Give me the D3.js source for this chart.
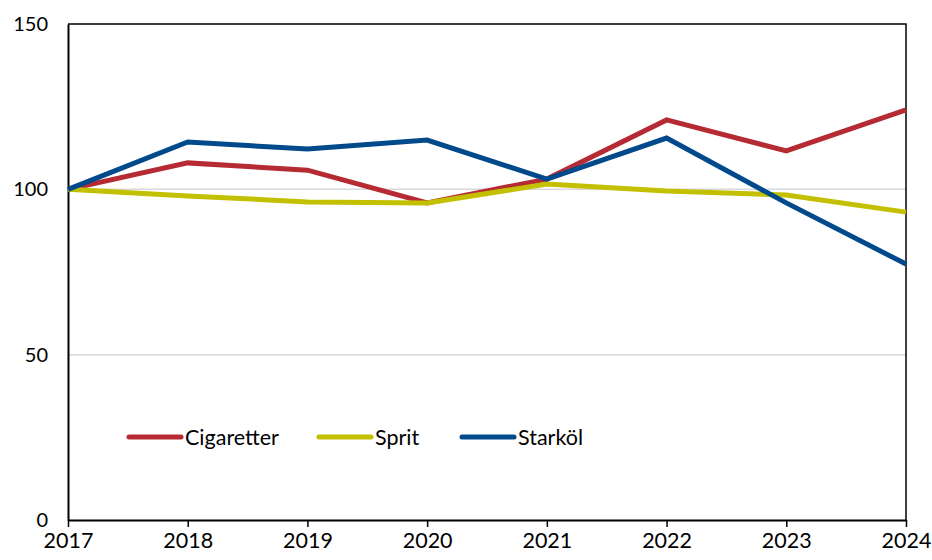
<!DOCTYPE html>
<html>
<head>
<meta charset="utf-8">
<script src="https://cdn.jsdelivr.net/npm/d3@7"></script>
<style>
  body { margin: 0; background: #fff; }
  text { font-family: Lato, "Open Sans", sans-serif; }
</style>
</head>
<body>
<div id="chart"></div>
<script>
// data, index 2017 = 100
var years = [2017, 2018, 2019, 2020, 2021, 2022, 2023, 2024];
var cigaretter = [100, 108, 105.8, 95.9, 103.1, 121, 111.6, 124];
var sprit = [100, 98, 96.2, 95.9, 101.6, 99.5, 98.3, 93.1];
var starkol = [100, 114.3, 112.2, 114.9, 103.1, 115.5, 95.9, 77.4];
var yTicks = [0, 50, 100, 150];

var series = [
  { name: "Cigaretter", values: cigaretter, color: "#b52a33" },
  { name: "Sprit", values: sprit, color: "#c2c000" },
  { name: "Starköl", values: starkol, color: "#004a8c" }
];

var margin = { left: 68, top: 24, right: 26, bottom: 40 };
var W = 932, H = 560;
var width = W - margin.left - margin.right;
var height = H - margin.top - margin.bottom;

var svg = d3.select("#chart").append("svg")
  .attr("width", W).attr("height", H);
var g = svg.append("g")
  .attr("transform", "translate(" + margin.left + "," + margin.top + ")");

var x = d3.scaleLinear().domain([2017, 2024]).range([0, width]);
var y = d3.scaleLinear().domain([0, 150]).range([height, 0]);

// gridlines
g.selectAll(".grid").data([50, 100]).enter().append("line")
  .attr("x1", 0).attr("x2", width)
  .attr("y1", d => y(d)).attr("y2", d => y(d))
  .attr("stroke", "#d9d9d9").attr("stroke-width", 1.5);

// frame top + right
g.append("path")
  .attr("d", "M0,0H" + width + "V" + height)
  .attr("fill", "none").attr("stroke", "#000").attr("stroke-width", 1.5);

// y axis
var yAxis = g.append("g").call(d3.axisLeft(y).tickValues(yTicks).tickSize(0).tickPadding(20));
yAxis.select(".domain").attr("stroke-width", 2);
yAxis.selectAll("text").attr("font-size", 20).attr("fill", "#000");

// x axis
var xAxis = g.append("g").attr("transform", "translate(0," + height + ")")
  .call(d3.axisBottom(x).tickValues(years).tickFormat(d3.format("d")).tickSize(7).tickSizeOuter(0).tickPadding(6));
xAxis.select(".domain").attr("stroke-width", 2);
xAxis.selectAll("line").attr("stroke-width", 1.5);
xAxis.selectAll("text").attr("font-size", 21.5).attr("fill", "#000");

var line = d3.line().x((d, i) => x(years[i])).y(d => y(d));

g.selectAll(".series").data(series).enter().append("path")
  .attr("d", d => line(d.values))
  .attr("fill", "none")
  .attr("stroke", d => d.color)
  .attr("stroke-width", 5)
  .attr("stroke-linejoin", "miter");

// legend
var legX = [61, 251, 394];
var leg = g.selectAll(".leg").data(series).enter().append("g")
  .attr("transform", (d, i) => "translate(" + legX[i] + "," + (437 - margin.top) + ")");
leg.append("line").attr("x1", 0).attr("x2", 52)
  .attr("stroke", d => d.color).attr("stroke-width", 5).attr("stroke-linecap", "round");
leg.append("text").attr("x", 56).attr("dy", "0.35em")
  .attr("font-size", 21.5).text(d => d.name);
</script>
</body>
</html>
